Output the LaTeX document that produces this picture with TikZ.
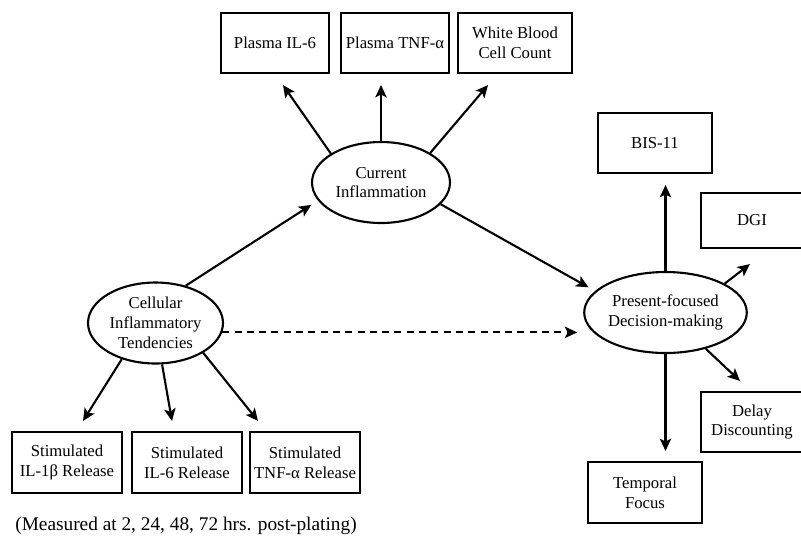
\documentclass[tikz,border=0pt]{standalone}
\usepackage{fontspec}
\setmainfont{Liberation Serif}
\usetikzlibrary{arrows.meta,shapes.geometric,calc}

\begin{document}
\begin{tikzpicture}[x=0.02cm, y=-0.02cm, line width=1.2pt,
    box/.style={draw, rectangle, align=center, inner sep=0pt, minimum width=2.2cm, minimum height=1.2cm, font=\fontsize{9.5}{11.3}\selectfont},
    latent/.style={draw, ellipse, align=center, inner sep=0pt, minimum width=2.7cm, minimum height=1.62cm, font=\fontsize{9.5}{11.3}\selectfont},
    arr/.style={-{Stealth[length=7pt, width=6.5pt, inset=1.6pt]}}]

    \useasboundingbox (0,0) rectangle (801,542);

    \node[latent, minimum width=2.76cm] (ci) at (381,182.5) {Current\\Inflammation};
    \node[latent] (cit) at (155.5,323) {Cellular\\Inflammatory\\Tendencies};
    \node[latent] (pfd) at (665.5,312.5) {Present-focused\\Decision-making};

    \node[box, minimum width=2.16cm] (pil6) at (275,43) {Plasma IL-6};
    \node[box, minimum width=2.16cm] (ptnf) at (395,43) {Plasma TNF-α};
    \node[box, minimum width=2.28cm] (wbc) at (515,43) {White Blood\\Cell Count};

    \node[box, minimum width=2.28cm] (bis) at (655,143) {BIS-11};
    \node[box, minimum width=2.04cm, minimum height=1.1cm] (dgi) at (752,220.5) {DGI};
    \node[box, minimum width=2.04cm] (delay) at (752,422) {Delay\\Discounting};
    \node[box, minimum width=2.28cm, minimum height=1.22cm] (tf) at (645,492.5) {Temporal\\Focus};

    \node[box, minimum height=1.22cm] (il1b) at (67,462.5) {Stimulated\\IL-1β Release};
    \node[box, minimum height=1.22cm] (il6) at (187,462.5) {Stimulated\\IL-6 Release};
    \node[box, minimum height=1.22cm] (stnf) at (305,462.5) {Stimulated\\TNF-α Release};

    \node[inner sep=0pt, font=\fontsize{11}{13}\selectfont] (note) at (186,526) {(Measured at 2, 24, 48, 72 hrs. post-plating)};

    \draw[arr] (ci.150) -- ($(pil6.south)+(8,11)$);
    \draw[arr] (ci.north) -- ($(ptnf.south)+(-14,11)$);
    \draw[arr] (ci.31) -- ($(wbc.south)+(-27,11)$);

    \draw[arr, shorten >=0.16cm] (cit.51) -- (ci.196);
    \draw[arr, shorten >=0.15cm] (ci.340) -- (pfd.163);
    \draw[arr, dash pattern=on 4pt off 3pt, shorten >=0.12cm] (cit.352) -- (cit.352 -| pfd.west);

    \draw[arr] (pfd.north) -- ($(bis.south)+(10.5,11)$);
    \draw[arr] (pfd.26) -- ($(dgi.south west)+(50,15)$);
    \draw[arr] (pfd.318) -- ($(delay.north west)+(40,-10)$);
    \draw[arr] (pfd.south) -- ($(tf.north)+(20.5,-10)$);

    \draw[arr] (cit.227) -- ($(il1b.north)+(16,-10)$);
    \draw[arr] (cit.279) -- ($(il6.north)+(-15,-10)$);
    \draw[arr] (cit.328) -- ($(stnf.north)+(-47,-10)$);

\end{tikzpicture}
\end{document}
